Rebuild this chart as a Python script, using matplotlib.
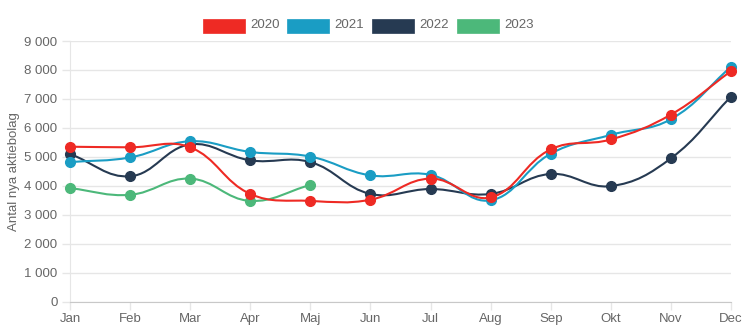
import numpy as np
import matplotlib
matplotlib.use("Agg")
import matplotlib.pyplot as plt
from matplotlib.path import Path
from matplotlib.patches import PathPatch, Rectangle

plt.rcParams["font.family"] = ["Liberation Sans", "DejaVu Sans"]

months = ["Jan", "Feb", "Mar", "Apr", "Maj", "Jun", "Jul", "Aug", "Sep", "Okt", "Nov", "Dec"]
years = ["2020", "2021", "2022", "2023"]
colors = ["#ee2a24", "#1a9dc4", "#263a52", "#4cb87a"]

v2020 = [5350, 5330, 5330, 3720, 3480, 3520, 4250, 3600, 5260, 5600, 6460, 7960]
v2021 = [4820, 4980, 5540, 5170, 5010, 4360, 4380, 3500, 5110, 5760, 6300, 8110]
v2022 = [5100, 4330, 5430, 4880, 4820, 3720, 3890, 3720, 4410, 3990, 4950, 7080]
v2023 = [3920, 3690, 4250, 3480, 4030]
series = [v2020, v2021, v2022, v2023]

W, H = 746, 333
fig = plt.figure(figsize=(W / 100, H / 100), dpi=100)
ax = fig.add_axes([70 / W, (H - 301.7) / H, 661 / W, 260.7 / H])
ax.set_xlim(0, 11)
ax.set_ylim(0, 9000)

grid = "#e6e6e6"
ax.set_yticks(range(0, 9001, 1000))
ax.set_yticklabels([f"{v:,}".replace(",", " ") for v in range(0, 9001, 1000)])
ax.set_xticks(range(12))
ax.set_xticklabels(months)
ax.grid(True, axis="y", color=grid, linewidth=1.0)
ax.set_axisbelow(True)
for s in ["top", "right"]:
    ax.spines[s].set_visible(False)
ax.spines["left"].set_color(grid)
ax.spines["bottom"].set_color("#c8c8c8")
ax.tick_params(axis="both", colors=grid, labelcolor="#666666", labelsize=9.5, length=6, width=1)
ax.tick_params(axis="y", pad=3)
ax.tick_params(axis="x", pad=2)
ax.set_ylabel("Antal nya aktiebolag", color="#666666", fontsize=9.5)
ax.yaxis.set_label_coords(-0.076, 0.5)


def spline_path(xs, ys, tension=0.4):
    # cubic bezier segments like chart.js, distances measured in pixels
    pts = ax.transData.transform(np.column_stack([xs, ys]))
    n = len(pts)
    cin, cout = [None] * n, [None] * n
    for i in range(n):
        prev = pts[max(i - 1, 0)]
        cur = pts[i]
        nxt = pts[min(i + 1, n - 1)]
        d01 = np.hypot(*(cur - prev))
        d12 = np.hypot(*(nxt - cur))
        tot = d01 + d12
        s01 = d01 / tot if tot else 0
        s12 = d12 / tot if tot else 0
        cin[i] = cur - tension * s01 * (nxt - prev)
        cout[i] = cur + tension * s12 * (nxt - prev)
    verts = [pts[0]]
    codes = [Path.MOVETO]
    for i in range(n - 1):
        verts += [cout[i], cin[i + 1], pts[i + 1]]
        codes += [Path.CURVE4] * 3
    inv = ax.transData.inverted()
    return Path(inv.transform(np.array(verts)), codes)


for k, (vals, c) in enumerate(zip(series, colors)):
    xs = np.arange(len(vals))
    z = 10 - k
    ax.add_patch(PathPatch(spline_path(xs, vals), fill=False, edgecolor=c,
                           linewidth=1.5, zorder=z, clip_on=False))
    ax.plot(xs, vals, "o", color=c, markersize=7, zorder=z, clip_on=False)

# legend row above the plot
box_x = [203, 287, 372, 457]
for x0, lab, c in zip(box_x, years, colors):
    fig.patches.append(Rectangle((x0 / W, (H - 32.7) / H), 42 / W, 14 / H,
                                 transform=fig.transFigure, facecolor=c,
                                 edgecolor=c, linewidth=0.5))
    fig.text((x0 + 47) / W, (H - 25.5) / H, lab, fontsize=9.5, color="#666666",
             va="center", ha="left")

fig.savefig("out.png", dpi=100)
